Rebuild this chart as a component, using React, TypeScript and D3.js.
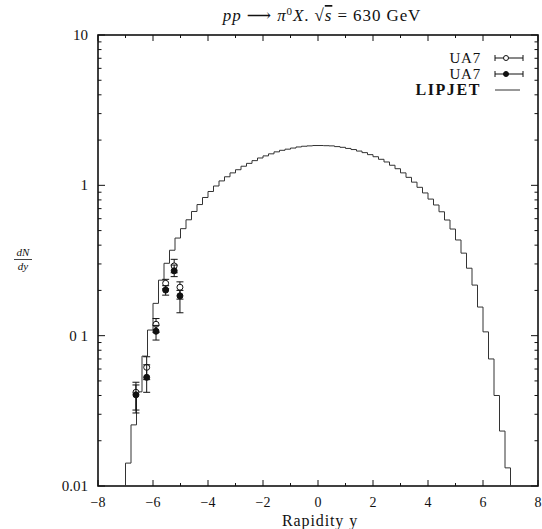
import React from "react";
import * as d3 from "d3";

// ---- data ----
const binStart = -7;
const binWidth = 0.2;
const lipjet = [
  0.0142, 0.0255, 0.0423, 0.0731, 0.109, 0.164, 0.234, 0.303, 0.37, 0.446,
  0.515, 0.59, 0.67, 0.745, 0.83, 0.91, 0.99, 1.07, 1.14, 1.21,
  1.27, 1.34, 1.4, 1.46, 1.52, 1.57, 1.62, 1.67, 1.71, 1.74,
  1.77, 1.8, 1.82, 1.83, 1.84,
  1.84, 1.835, 1.83, 1.81, 1.79, 1.76, 1.73, 1.69, 1.65, 1.6,
  1.55, 1.49, 1.43, 1.36, 1.29, 1.21, 1.13, 1.05, 0.97, 0.89,
  0.81, 0.74, 0.667, 0.588, 0.512, 0.433, 0.354, 0.281, 0.217, 0.155,
  0.106, 0.07, 0.04, 0.0232, 0.0132,
];

const ua7X = [-6.62, -6.23, -5.89, -5.54, -5.23, -5.02];
const ua7OpenY = [0.042, 0.0616, 0.119, 0.223, 0.291, 0.21];
const ua7OpenHi = [0.049, 0.0724, 0.13, 0.237, 0.322, 0.228];
const ua7OpenLo = [0.032, 0.051, 0.105, 0.205, 0.262, 0.175];
const ua7FillY = [0.0404, 0.0528, 0.107, 0.201, 0.27, 0.184];
const ua7FillHi = [0.047, 0.064, 0.117, 0.215, 0.295, 0.2];
const ua7FillLo = [0.0306, 0.042, 0.0935, 0.186, 0.247, 0.142];

const xTickLabels = ["−8", "−6", "−4", "−2", "0", "2", "4", "6", "8"];
const xTickValues = [-8, -6, -4, -2, 0, 2, 4, 6, 8];
const yTickValues = [10, 1, 0.1, 0.01];
const yTickLabels = ["10", "1", "0 1", "0.01"];

const W = 542;
const H = 529;
const L = 98, R = 538, T = 35, B = 486;
const FONT = "'Liberation Serif', 'DejaVu Serif', serif";

export default function App() {
  const x = d3.scaleLinear().domain([-8, 8]).range([L, R]);
  const y = d3.scaleLog().domain([0.01, 10]).range([B, T]);

  const edges = lipjet.map((_, i) => binStart + i * binWidth);
  const pts: [number, number][] = [];
  pts.push([x(binStart), y(0.01)]);
  lipjet.forEach((v, i) => {
    const yv = y(Math.max(v, 0.01));
    pts.push([x(edges[i]), yv]);
    pts.push([x(edges[i] + binWidth), yv]);
  });
  pts.push([x(binStart + lipjet.length * binWidth), y(0.01)]);
  const histPath = d3.line()(pts) || "";

  const minorX = d3.range(-7, 8, 2);
  const minorY: number[] = [];
  [0.01, 0.1, 1].forEach((d) => {
    for (let k = 2; k <= 9; k++) minorY.push(d * k);
  });

  const cap = 3.5;
  const errBars = (
    ys: number[],
    lo: number[],
    hi: number[],
    filled: boolean,
    key: string
  ) =>
    ua7X.map((xv, i) => {
      const cx = x(xv);
      return (
        <g key={key + i}>
          <line x1={cx} x2={cx} y1={y(lo[i])} y2={y(hi[i])} stroke="#111" strokeWidth={1} />
          <line x1={cx - cap} x2={cx + cap} y1={y(lo[i])} y2={y(lo[i])} stroke="#111" strokeWidth={1} />
          <line x1={cx - cap} x2={cx + cap} y1={y(hi[i])} y2={y(hi[i])} stroke="#111" strokeWidth={1} />
          <circle cx={cx} cy={y(ys[i])} r={3} fill={filled ? "#111" : "#fff"} stroke="#111" strokeWidth={1} />
        </g>
      );
    });

  const legendRows = [
    { label: "UA7", y: 58, kind: "open" },
    { label: "UA7", y: 74, kind: "filled" },
    { label: "LIPJET", y: 90, kind: "line" },
  ];

  return (
    <svg
      width={W}
      height={H}
      style={{ position: "absolute", left: 0, top: 0, background: "#fff" }}
      fontFamily={FONT}
    >
      <rect x={0} y={0} width={W} height={H} fill="#fff" />
      {/* title */}
      <text x={322} y={21} fontSize={17} textAnchor="middle" fill="#111" letterSpacing={0.9}>
        <tspan fontStyle="italic">pp</tspan>
        <tspan> ⟶ </tspan>
        <tspan fontStyle="italic">π</tspan>
        <tspan fontSize={11} dy={-6}>0</tspan>
        <tspan fontStyle="italic" dy={6}>X</tspan>
        <tspan>.  √</tspan>
        <tspan fontStyle="italic" textDecoration="overline" style={{ textDecoration: "overline" }}>s</tspan>
        <tspan> = 630  GeV</tspan>
      </text>

      {/* frame */}
      <rect x={L} y={T} width={R - L} height={B - T} fill="none" stroke="#111" strokeWidth={1.6} />

      {/* x ticks */}
      {xTickValues.map((v) => (
        <g key={"xt" + v}>
          <line x1={x(v)} x2={x(v)} y1={B} y2={B - 6} stroke="#111" />
          <line x1={x(v)} x2={x(v)} y1={T} y2={T + 6} stroke="#111" />
        </g>
      ))}
      {minorX.map((v) => (
        <g key={"xm" + v}>
          <line x1={x(v)} x2={x(v)} y1={B} y2={B - 3} stroke="#111" />
          <line x1={x(v)} x2={x(v)} y1={T} y2={T + 3} stroke="#111" />
        </g>
      ))}
      {xTickValues.map((v, i) => (
        <text key={"xl" + v} x={x(v)} y={507} fontSize={14} textAnchor="middle" fill="#111">
          {xTickLabels[i]}
        </text>
      ))}

      {/* y ticks */}
      {yTickValues.map((v) => (
        <g key={"yt" + v}>
          <line x1={L} x2={L + 7} y1={y(v)} y2={y(v)} stroke="#111" />
          <line x1={R} x2={R - 7} y1={y(v)} y2={y(v)} stroke="#111" />
        </g>
      ))}
      {minorY.map((v) => (
        <g key={"ym" + v}>
          <line x1={L} x2={L + 3.5} y1={y(v)} y2={y(v)} stroke="#111" />
          <line x1={R} x2={R - 3.5} y1={y(v)} y2={y(v)} stroke="#111" />
        </g>
      ))}
      {yTickLabels.map((lab, i) => (
        <text key={"yl" + i} x={88} y={y(yTickValues[i]) + 5} fontSize={15} textAnchor="end" fill="#111">
          {lab}
        </text>
      ))}

      {/* axis labels */}
      <text x={320} y={526} fontSize={16} textAnchor="middle" fill="#111" letterSpacing={0.9}>
        Rapidity y
      </text>
      <g fill="#111" fontStyle="italic" fontSize={11}>
        <text x={23} y={256} textAnchor="middle">dN</text>
        <line x1={14} x2={32} y1={259.5} y2={259.5} stroke="#111" strokeWidth={0.8} />
        <text x={23} y={270} textAnchor="middle">dy</text>
      </g>

      {/* histogram */}
      <path d={histPath} fill="none" stroke="#333" strokeWidth={1} />

      {/* data */}
      {errBars(ua7OpenY, ua7OpenLo, ua7OpenHi, false, "o")}
      {errBars(ua7FillY, ua7FillLo, ua7FillHi, true, "f")}

      {/* legend */}
      {legendRows.map((r) => (
        <g key={r.label + r.y}>
          <text
            x={481}
            y={r.y + 5}
            fontSize={r.kind === "line" ? 16 : 15}
            textAnchor="end"
            fontWeight={r.kind === "line" ? "bold" : "normal"}
            letterSpacing={r.kind === "line" ? 1.6 : 0.8}
            fill="#111"
          >
            {r.label}
          </text>
          {r.kind === "line" ? (
            <line x1={495} x2={520} y1={r.y} y2={r.y} stroke="#333" strokeWidth={1} />
          ) : (
            <g>
              <line x1={495} x2={523} y1={r.y} y2={r.y} stroke="#111" />
              <line x1={495} x2={495} y1={r.y - 3} y2={r.y + 3} stroke="#111" />
              <line x1={523} x2={523} y1={r.y - 3} y2={r.y + 3} stroke="#111" />
              <circle cx={506} cy={r.y} r={2.5} fill={r.kind === "filled" ? "#111" : "#fff"} stroke="#111" />
            </g>
          )}
        </g>
      ))}
    </svg>
  );
}
